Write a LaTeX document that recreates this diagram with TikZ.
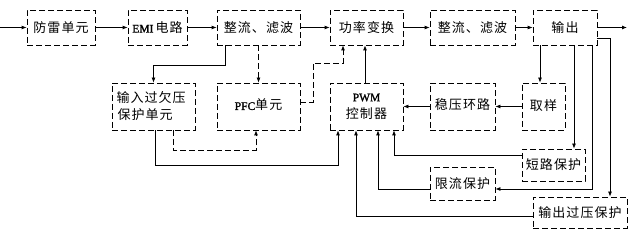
\documentclass[tikz,border=0pt]{standalone}
\usepackage{fontspec}
\setmainfont{Noto Sans CJK SC}[LetterSpace=8]
\newfontfamily\latf{Liberation Serif}[FakeBold=1.5]
\newcommand\lat[1]{{\latf\fontsize{11.5}{13}\selectfont #1}}
\usetikzlibrary{arrows.meta}
\begin{document}
\begin{tikzpicture}[x=1pt,y=-1pt,
  box/.style={draw,line width=0.8pt,dash pattern=on 6pt off 3pt,inner sep=0pt,
    font=\fontsize{13}{17}\selectfont,align=center},
  arr/.style={line width=0.8pt,-{Latex[length=5pt,width=4pt]}},
  dsh/.style={dash pattern=on 6pt off 3pt}]
\useasboundingbox (0,0) rectangle (635,232);
% top row
\node[box,minimum width=68pt,minimum height=35pt] (lei) at (61,27.5) {防雷单元};
\node[box,minimum width=59pt,minimum height=35pt] (emi) at (157.5,27.5) {\lat{EMI}\,电路};
\node[box,minimum width=83pt,minimum height=35pt] (rf1) at (258.5,27.5) {整流、滤波};
\node[box,minimum width=73pt,minimum height=35pt] (gl) at (366.5,27.5) {功率变换};
\node[box,minimum width=85pt,minimum height=35pt] (rf2) at (472.5,27.5) {整流、滤波};
\node[box,minimum width=64pt,minimum height=35pt] (out) at (565,27.5) {输出};
% middle row
\node[box,minimum width=83pt,minimum height=47pt,align=left] (inp) at (153.5,106.5) {\raisebox{-3pt}{\parbox{74pt}{输入过欠压\\\hspace*{1pt}保护单元}}};
\node[box,minimum width=83pt,minimum height=47pt] (pfc) at (258.5,106.5) {\raisebox{4pt}{\lat{PFC}单元}};
\node[box,minimum width=73pt,minimum height=47pt] (pwm) at (366.5,106.5) {\raisebox{2pt}{\parbox{60pt}{\centering\lat{PWM}\\[0pt]控制器}}};
\node[box,minimum width=65pt,minimum height=47pt] (wy) at (462.5,106.5) {\raisebox{4pt}{稳压环路}};
\node[box,minimum width=43pt,minimum height=47pt] (qy) at (543.5,106.5) {\raisebox{2pt}{取样}};
% bottom
\node[box,minimum width=63pt,minimum height=32pt] (dl) at (553.5,165) {短路保护};
\node[box,minimum width=65pt,minimum height=33pt] (xl) at (462.5,183.5) {限流保护};
\node[box,minimum width=94pt,minimum height=31pt] (gy) at (580,212.5) {输出过压保护};
\coordinate (src) at (0,27.5);
\coordinate (dst) at (627,27.5);
% main chain
\draw[arr] (src) -- (lei.west);
\draw[arr] (lei.east) -- (emi.west);
\draw[arr] (emi.east) -- (rf1.west);
\draw[arr] (rf1.east) -- (gl.west);
\draw[arr] (gl.east) -- (rf2.west);
\draw[arr] (rf2.east) -- (out.west);
\draw[arr] (out.east) -- (dst);
% branches
\draw[arr] ([xshift=-33.5pt]rf1.south) -- ++(0,20) -| (inp.north);
\draw[arr,dsh] (rf1.south) -- (pfc.north);
\draw[arr,dsh] ([yshift=4.5pt]pfc.east) -- ++(13,0) -- ++(0,-39) -| ([xshift=-23.5pt]gl.south);
\draw[arr] ([xshift=-1.5pt]pwm.north) -- ([xshift=-1.5pt]gl.south);
\draw[arr] (wy.west) -- (pwm.east);
\draw[arr] (qy.west) -- (wy.east);
\draw[arr] ([xshift=-25pt]out.south) -- ([xshift=-25pt]out.south |- qy.north);
\draw[arr] ([xshift=9pt]out.south) -- ([xshift=9pt]out.south |- dl.north);
\draw[arr] ([xshift=27pt]out.south) |- ([yshift=-5.5pt]xl.east);
\draw[arr] ([yshift=-10.5pt]out.east) -| ([xshift=30pt]gy.north);
\draw[arr] ([yshift=10pt]dl.west) -| ([xshift=27.5pt]pwm.south);
\draw[arr] ([yshift=-5.5pt]xl.west) -| ([xshift=11.5pt]pwm.south);
\draw[arr] ([yshift=-3.5pt]gy.west) -| ([xshift=-10.5pt]pwm.south);
\draw[arr] ([xshift=1.5pt]inp.south) -- ++(0,35) -| ([xshift=-28.5pt]pwm.south);
\draw[arr,dsh] ([xshift=19.5pt]inp.south) -- ++(0,20) -| ([xshift=-2.5pt]pfc.south);
\end{tikzpicture}
\end{document}
